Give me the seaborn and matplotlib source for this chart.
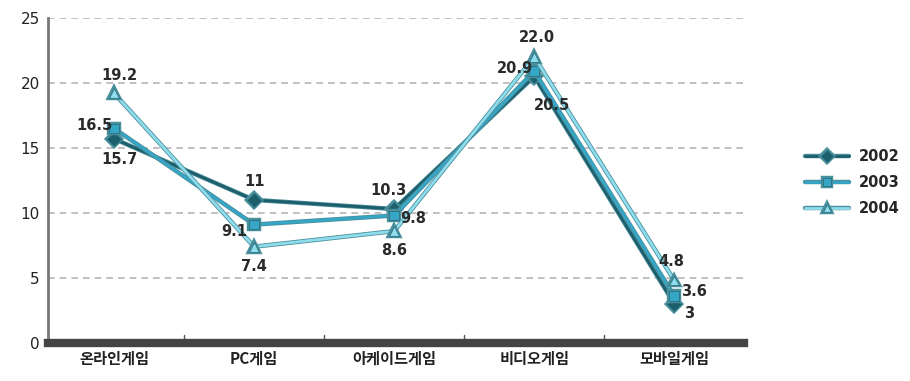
import matplotlib
matplotlib.use("Agg")
import matplotlib.pyplot as plt
import matplotlib.patheffects as pe
import seaborn as sns
import pandas as pd

categories = ["온라인게임", "PC게임", "아케이드게임", "비디오게임", "모바일게임"]
years = ["2002", "2003", "2004"]
values_2002 = [15.7, 11, 10.3, 20.5, 3]
values_2003 = [16.5, 9.1, 9.8, 20.9, 3.6]
values_2004 = [19.2, 7.4, 8.6, 22.0, 4.8]
label_text_2002 = ["15.7", "11", "10.3", "20.5", "3"]
label_text_2003 = ["16.5", "9.1", "9.8", "20.9", "3.6"]
label_text_2004 = ["19.2", "7.4", "8.6", "22.0", "4.8"]
y_ticks = [0, 5, 10, 15, 20, 25]

series = {"2002": values_2002, "2003": values_2003, "2004": values_2004}
texts = {"2002": label_text_2002, "2003": label_text_2003, "2004": label_text_2004}

rows = []
for y in years:
    for i, c in enumerate(categories):
        rows.append({"category": c, "pos": i, "year": y, "share": series[y][i]})
df = pd.DataFrame(rows)

sns.set_theme(style="white")
plt.rcParams["font.family"] = ["Noto Sans CJK KR", "DejaVu Sans"]

colors = {"2002": "#1d5e6c", "2003": "#35a6c6", "2004": "#8fdcec"}
markers = {"2002": "D", "2003": "s", "2004": "^"}

fig = plt.figure(figsize=(9.1, 3.81), dpi=100)
ax = fig.add_axes([0.053, 0.1, 0.765, 0.853])

sns.lineplot(data=df, x="pos", y="share", hue="year", style="year",
             palette=colors, markers=markers, dashes=False, sort=False,
             markersize=7, linewidth=2.0, ax=ax, legend=False,
             markeredgewidth=0.6)
for line in ax.get_lines():
    line.set_path_effects([pe.Stroke(linewidth=3.2, foreground="#4a8f9c"), pe.Normal()])
    line.set_markeredgecolor("#2a6f7d")

# value labels with per-point offsets (points)
offsets = {
    "2002": [(4, -15), (0, 13), (-4, 13), (13, -21), (11, -7)],
    "2003": [(-14, 2), (-14, -5), (14, -2), (-14, 2), (14, 3)],
    "2004": [(4, 13), (0, -14), (0, -14), (2, 14), (-2, 14)],
}
for y in years:
    for i in range(len(categories)):
        dx, dy = offsets[y][i]
        ax.annotate(texts[y][i], (i, series[y][i]), xytext=(dx, dy),
                    textcoords="offset points", ha="center", va="center",
                    fontsize=10.5, color="#2a2a2a", fontweight="bold",
                    family=["DejaVu Sans"])

ax.set_xlim(-0.47, 4.5)
ax.set_ylim(0, 25)
ax.set_yticks(y_ticks)
ax.set_yticklabels([str(t) for t in y_ticks], fontsize=11, color="#222222",
                   family=["DejaVu Sans"])
ax.set_xticks(range(len(categories)))
ax.set_xticklabels(categories, fontsize=11, color="#222222", fontweight="bold")
ax.tick_params(axis="x", length=0, pad=6)
ax.tick_params(axis="y", length=0, pad=6)
ax.set_xlabel("")
ax.set_ylabel("")

for v in y_ticks[1:]:
    ax.axhline(v, color="#b5b5b5", linestyle=(0, (4, 3)), linewidth=1.2, zorder=0)

# small separators between categories on the bottom axis
for b in [0.5, 1.5, 2.5, 3.5]:
    ax.plot([b, b], [0, 0.6], color="#555555", linewidth=1, zorder=1)

for s in ["top", "right"]:
    ax.spines[s].set_visible(False)
ax.spines["left"].set_color("#777777")
ax.spines["left"].set_linewidth(2)
ax.spines["bottom"].set_color("#444444")
ax.spines["bottom"].set_linewidth(6)

handles = []
for y in years:
    h, = ax.plot([], [], color=colors[y], marker=markers[y], markersize=6,
                 linewidth=2.0, markeredgecolor="#2a6f7d", markeredgewidth=0.6)
    h.set_path_effects([pe.Stroke(linewidth=3.2, foreground="#4a8f9c"), pe.Normal()])
    handles.append(h)
fig.legend(handles, years, loc="center left", bbox_to_anchor=(0.885, 0.52),
           frameon=False, handlelength=3.0, handletextpad=0.7, labelspacing=0.75,
           borderaxespad=0, borderpad=0,
           prop={"family": "DejaVu Sans", "size": 10.5, "weight": "bold"})

fig.savefig("out.png", dpi=100, facecolor="white")
